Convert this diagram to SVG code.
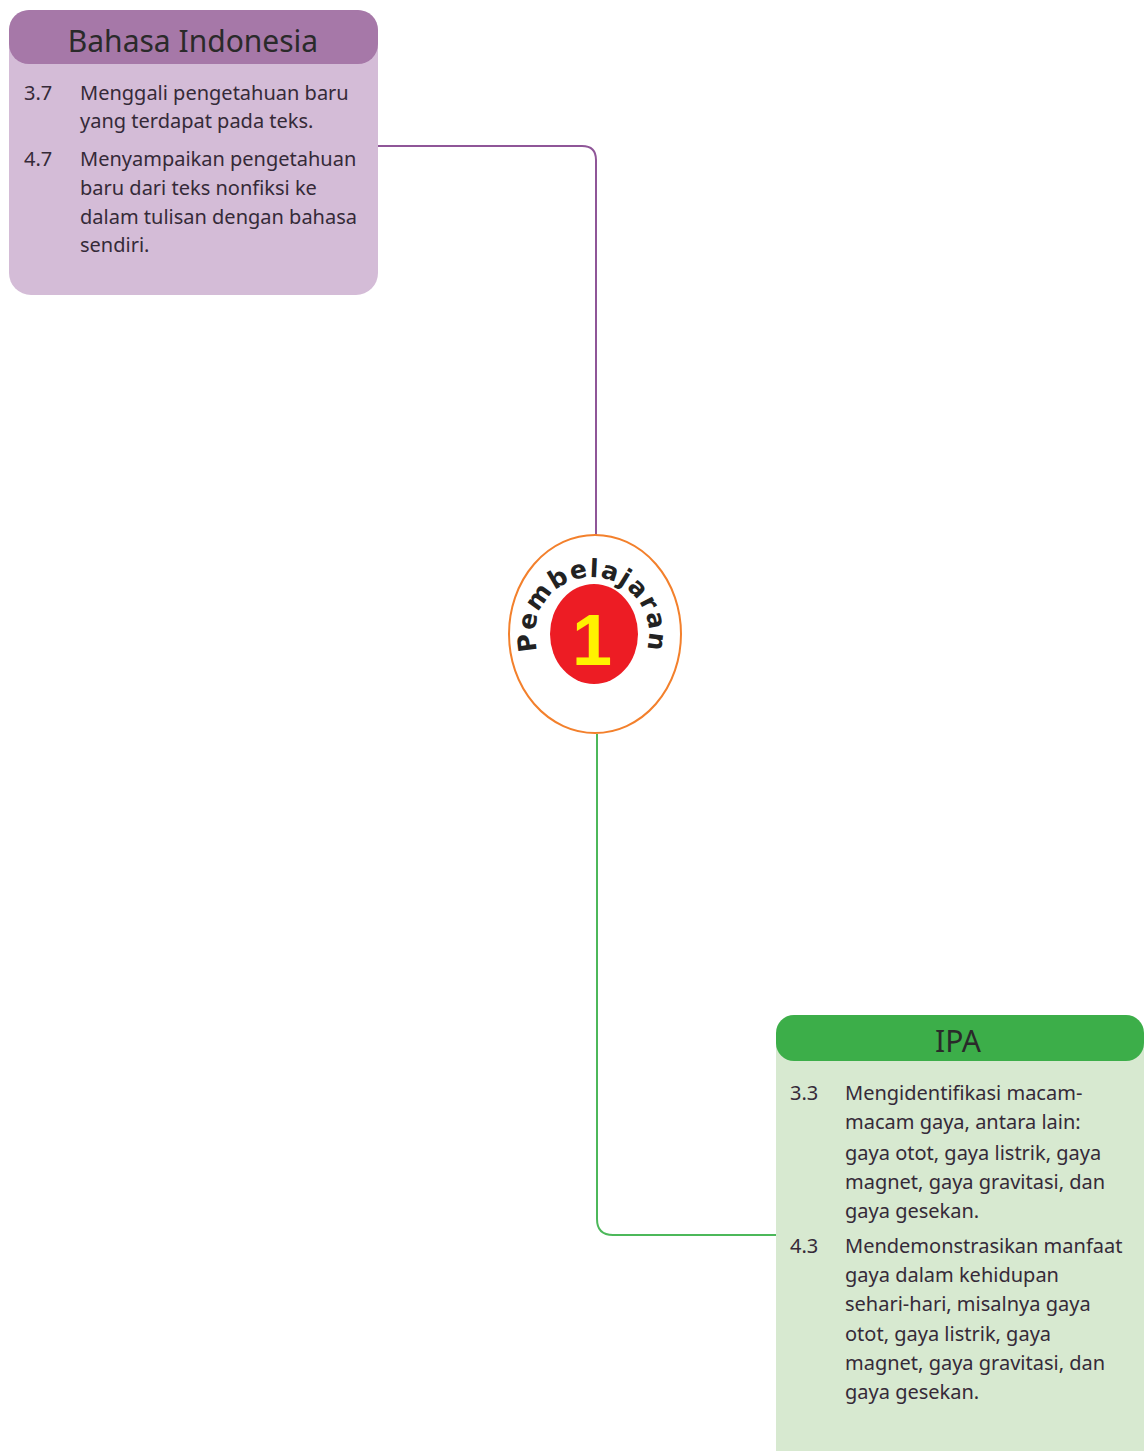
<svg xmlns="http://www.w3.org/2000/svg" width="1144" height="1451" viewBox="0 0 1144 1451">
<style>
.h{font-family:"Noto Sans","Open Sans",sans-serif;font-size:30px;fill:#2a2a2a;text-anchor:middle}
.t{font-family:"Noto Sans","Open Sans",sans-serif;font-size:20px;fill:#352a38}
.c{fill:none;stroke-width:2}
</style>
<rect width="1144" height="1451" fill="#ffffff"/>
<g id="connectors">
<path class="c" stroke="#8f5698" d="M378,146 H582 Q596,146 596,160 V536"/>
<path class="c" stroke="#4cb85a" d="M597,734 V1219 Q597,1235 613,1235 H777"/>
</g>
<g id="bahasa-indonesia">
<rect x="9" y="10" width="369" height="285" rx="22" fill="#d4bcd7"/>
<rect x="9" y="10" width="369" height="54" rx="20" fill="#a678a8"/>
<text class="h" x="193" y="52">Bahasa Indonesia</text>
<text class="t" x="24" y="100">3.7</text>
<text class="t" x="80" y="100">Menggali pengetahuan baru</text>
<text class="t" x="80" y="128">yang terdapat pada teks.</text>
<text class="t" x="24" y="166">4.7</text>
<text class="t" x="80" y="166">Menyampaikan pengetahuan</text>
<text class="t" x="80" y="195">baru dari teks nonfiksi ke</text>
<text class="t" x="80" y="224">dalam tulisan dengan bahasa</text>
<text class="t" x="80" y="252">sendiri.</text>
</g>
<g id="pembelajaran-1">
<defs><path id="arc" d="M540.3,658.1 A57,57 0 1 1 643.7,658.1"/></defs>
<ellipse cx="595" cy="634" rx="86" ry="99" fill="#ffffff" stroke="#f3802c" stroke-width="2"/>
<ellipse cx="594" cy="634" rx="44" ry="50" fill="#ed1c24"/>
<text x="592" y="665" font-family="Liberation Sans" font-weight="bold" font-size="72" fill="#fff200" text-anchor="middle">1</text>
<text font-family="DejaVu Sans" font-weight="bold" font-size="25" letter-spacing="1.5" fill="#222"><textPath href="#arc" startOffset="50%" text-anchor="middle">Pembelajaran</textPath></text>
</g>
<g id="ipa">
<rect x="776" y="1015" width="368" height="470" rx="20" fill="#d7e9d0"/>
<rect x="776" y="1015" width="368" height="46" rx="18" fill="#3cae49"/>
<text class="h" x="958" y="1052">IPA</text>
<text class="t" x="790" y="1100">3.3</text>
<text class="t" x="845" y="1100">Mengidentifikasi macam-</text>
<text class="t" x="845" y="1129">macam gaya, antara lain:</text>
<text class="t" x="845" y="1160">gaya otot, gaya listrik, gaya</text>
<text class="t" x="845" y="1189">magnet, gaya gravitasi, dan</text>
<text class="t" x="845" y="1218">gaya gesekan.</text>
<text class="t" x="790" y="1253">4.3</text>
<text class="t" x="845" y="1253">Mendemonstrasikan manfaat</text>
<text class="t" x="845" y="1282">gaya dalam kehidupan</text>
<text class="t" x="845" y="1311">sehari-hari, misalnya gaya</text>
<text class="t" x="845" y="1341">otot, gaya listrik, gaya</text>
<text class="t" x="845" y="1370">magnet, gaya gravitasi, dan</text>
<text class="t" x="845" y="1399">gaya gesekan.</text>
</g>
</svg>
